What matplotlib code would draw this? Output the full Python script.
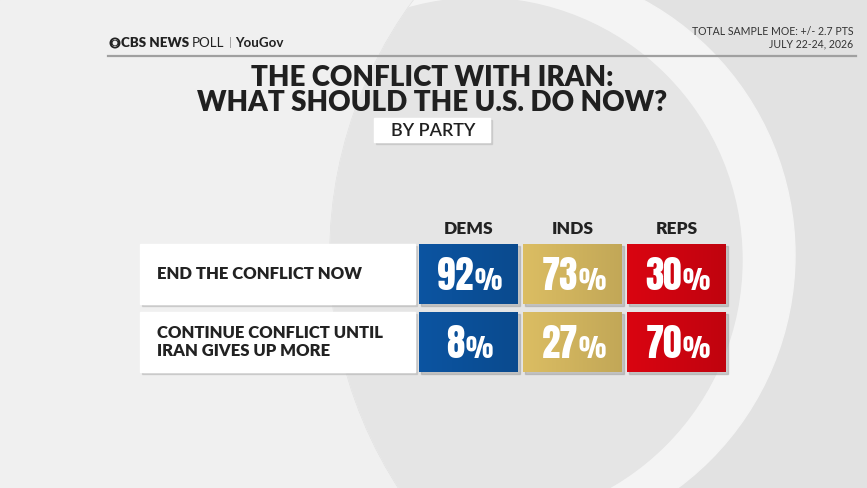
import matplotlib
matplotlib.use("Agg")
import matplotlib.pyplot as plt
import matplotlib.patches as mpatches
import numpy as np

# ------------------------------------------------------------------
# Dados
# ------------------------------------------------------------------
parties = ["DEMS", "INDS", "REPS"]
options = ["END THE CONFLICT NOW", "CONTINUE CONFLICT UNTIL\nIRAN GIVES UP MORE"]
dems = [92, 8]
inds = [73, 27]
reps = [30, 70]
party_colors = ["#0b519b", "#d3b65f", "#d10410"]

title = "THE CONFLICT WITH IRAN:\nWHAT SHOULD THE U.S. DO NOW?"
subtitle = "BY PARTY"
moe = "TOTAL SAMPLE MOE: +/- 2.7 PTS\nJULY 22-24, 2026"

W, H = 867, 488
HEAD = ["Lato", "Open Sans", "DejaVu Sans"]
NUM = ["Anton", "Asap Condensed", "Roboto", "DejaVu Sans"]

fig = plt.figure(figsize=(W / 100, H / 100), dpi=100)
ax = fig.add_axes([0, 0, 1, 1])
ax.set_xlim(0, W)
ax.set_ylim(H, 0)
ax.axis("off")

# ------------------------------------------------------------------
# Fundo (aneis claros estilo "olho" CBS)
# ------------------------------------------------------------------
fig.patch.set_facecolor("#efefef")
ax.add_patch(mpatches.Rectangle((0, 0), W, H, color="#f0f0f0", zorder=0))
eye = mpatches.Circle((760, 255), 430, color="#e2e2e2", zorder=0.1)
ax.add_patch(eye)
ring = mpatches.Circle((505, 255), 290, color="#f4f4f4", zorder=0.2)
ax.add_patch(ring)
ring.set_clip_path(eye)
inner = mpatches.Circle((480, 260), 262, color="#e5e5e5", zorder=0.3)
ax.add_patch(inner)
inner.set_clip_path(eye)

# ------------------------------------------------------------------
# Cabeçalho
# ------------------------------------------------------------------
ax.add_patch(mpatches.Circle((115, 43), 4.6, fill=False, ec="#222", lw=1.3, zorder=3))
ax.add_patch(mpatches.Ellipse((115, 43), 8.5, 4.6, color="#222", zorder=3))
ax.add_patch(mpatches.Circle((115, 43), 1.7, color="#eee", zorder=4))

fig.canvas.draw()
renderer = fig.canvas.get_renderer()
inv = ax.transData.inverted()


def width_of(t):
    bb = t.get_window_extent(renderer)
    p0 = inv.transform((bb.x0, bb.y0))
    p1 = inv.transform((bb.x1, bb.y0))
    return p1[0] - p0[0]


def chain(x, s, gap, **kw):
    t = ax.text(x, 43, s, va="center", ha="left", zorder=3, **kw)
    return x + width_of(t) + gap


x = chain(121, "CBS NEWS", 3, fontsize=9.6, fontweight="heavy", family=HEAD, color="#222")
x = chain(x, "POLL", 4, fontsize=9.6, family=HEAD, color="#222")
x = chain(x, "|", 4, fontsize=8.5, family=HEAD, color="#999")
x = chain(x, "YouGov", 0, fontsize=9.6, fontweight="bold", family=HEAD, color="#222")

ax.text(853, 38, moe, fontsize=7.6, family=HEAD, color="#333",
        va="center", ha="right", linespacing=1.15, zorder=3)
ax.plot([108, 856], [56, 56], color="#a0a0a0", lw=1.6, zorder=3)

ax.text(432, 90.5, title, fontsize=20, fontweight="heavy", family=HEAD,
        color="#202020", va="center", ha="center", linespacing=0.92, zorder=3)

ax.add_patch(mpatches.Rectangle((376, 120), 116, 24, color="#bbb", alpha=0.5, zorder=2))
ax.add_patch(mpatches.Rectangle((374, 118), 116, 24, color="white", zorder=3))
ax.text(433, 130.5, subtitle, fontsize=13, fontweight="semibold", family=HEAD,
        color="#202020", va="center", ha="center", zorder=4)

# ------------------------------------------------------------------
# Tabela
# ------------------------------------------------------------------
col_x0 = [419, 523, 627]
col_w = 99
row_y0 = [244, 312]
row_h = 60
label_x0, label_w = 140, 275

values = [dems, inds, reps]

for j, party in enumerate(parties):
    ax.text(col_x0[j] + col_w / 2, 229, party, fontsize=12.5, fontweight="heavy",
            family=HEAD, color="#222", va="center", ha="center", zorder=3)

for i, opt in enumerate(options):
    y0 = row_y0[i]
    ax.add_patch(mpatches.Rectangle((label_x0 + 2, y0 + 2), label_w, row_h,
                                    color="#b5b5b5", alpha=0.5, zorder=2))
    ax.add_patch(mpatches.Rectangle((label_x0, y0), label_w, row_h,
                                    color="white", zorder=3))
    ax.text(label_x0 + 17, y0 + row_h / 2, opt, fontsize=12, fontweight="heavy",
            family=HEAD, color="#222", va="center", ha="left",
            linespacing=1.08, zorder=4)
    for j in range(len(parties)):
        x0 = col_x0[j]
        ax.add_patch(mpatches.Rectangle((x0 + 2, y0 + 2), col_w, row_h,
                                        color="#999", alpha=0.45, zorder=2))
        # leve gradiente horizontal
        base = np.array(matplotlib.colors.to_rgb(party_colors[j]))
        grad = np.linspace(1.04, 0.92, 50)
        img = np.clip(base[None, None, :] * grad[None, :, None], 0, 1)
        ax.imshow(img, extent=(x0, x0 + col_w, y0 + row_h, y0),
                  aspect="auto", zorder=3, interpolation="bilinear")
        # número grande + sinal de % menor, centralizados juntos
        base_y = y0 + 45.5
        tn = ax.text(0, base_y, str(values[j][i]), fontsize=26.5, family=NUM,
                     color="white", va="baseline", ha="left", zorder=4)
        tp = ax.text(0, base_y, "%", fontsize=18.5, family=NUM,
                     color="white", va="baseline", ha="left", zorder=4)
        wn, wp = width_of(tn), width_of(tp)
        gap = 0.5
        start = x0 + col_w / 2 + 1 - (wn + gap + wp) / 2
        tn.set_x(start)
        tp.set_x(start + wn + gap)

ax.set_xlim(0, W)
ax.set_ylim(H, 0)
fig.savefig("out.png", dpi=100)
